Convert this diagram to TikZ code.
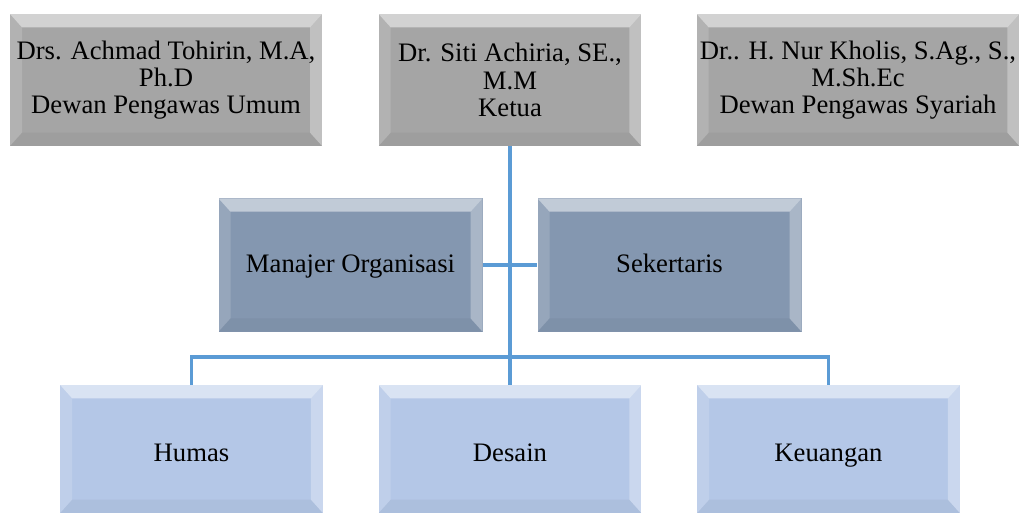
\documentclass[tikz,border=0pt]{standalone}
\usepackage{fontspec}
\setmainfont{Liberation Serif}
\usepackage{xcolor}

\definecolor{abu}{HTML}{A5A5A5}
\definecolor{biru}{HTML}{8497B0}
\definecolor{birumuda}{HTML}{B4C7E7}
\definecolor{garis}{HTML}{5B9BD5}

\tikzset{
  bevel/.style={
    path picture={
      \fill[white,opacity=0.5] (path picture bounding box.north west) -- (path picture bounding box.north east)
        -- ([xshift=-9pt,yshift=-10pt]path picture bounding box.north east) -- ([xshift=9pt,yshift=-10pt]path picture bounding box.north west) -- cycle;
      \fill[white,opacity=0.15] (path picture bounding box.north west) -- ([xshift=9pt,yshift=-10pt]path picture bounding box.north west)
        -- ([xshift=9pt,yshift=10pt]path picture bounding box.south west) -- (path picture bounding box.south west) -- cycle;
      \fill[white,opacity=0.3] (path picture bounding box.north east) -- ([xshift=-9pt,yshift=-10pt]path picture bounding box.north east)
        -- ([xshift=-9pt,yshift=10pt]path picture bounding box.south east) -- (path picture bounding box.south east) -- cycle;
      \fill[black,opacity=0.04] (path picture bounding box.south west) -- ([xshift=9pt,yshift=10pt]path picture bounding box.south west)
        -- ([xshift=-9pt,yshift=10pt]path picture bounding box.south east) -- (path picture bounding box.south east) -- cycle;
    }
  }
}

\begin{document}
\begin{tikzpicture}[x=0.75pt, y=-0.75pt,
    every node/.style={rectangle, align=center, inner sep=0pt, font=\fontsize{20}{20.5}\selectfont, bevel},
    atas/.style={fill=abu, minimum height=99pt},
    tengah/.style={fill=biru, minimum width=198pt, minimum height=100pt, text height=15pt, text depth=4pt},
    bawah/.style={fill=birumuda, minimum width=197pt, minimum height=96pt, text height=19pt, text depth=1pt},
    conn/.style={draw=garis, line width=2.4pt}]
            \useasboundingbox (0,0) rectangle (1019,513);

            \node[atas, minimum width=234pt] (umum) at (166,80) {Drs. Achmad Tohirin, M.A,\\Ph.D\\Dewan Pengawas Umum};
            \node[atas, minimum width=197pt] (ketua) at (510,80) {Dr. Siti Achiria, SE.,\\M.M\\Ketua};
            \node[atas, minimum width=242pt] (syariah) at (858,80) {Dr.. H. Nur Kholis, S.Ag., S.,\\M.Sh.Ec\\Dewan Pengawas Syariah};

            \node[tengah] (manajer) at (350.5,265) {Manajer Organisasi};
            \node[tengah] (sekertaris) at (669.5,265) {Sekertaris};

            \node[bawah] (humas) at (191.5,449) {Humas};
            \node[bawah] (desain) at (510,449) {Desain};
            \node[bawah] (keuangan) at (828.5,449) {Keuangan};

            \coordinate (cabang) at (510,357);

            \draw[conn] (ketua.south) -- (desain.north);
            \draw[conn] (manajer.east) -- (sekertaris.west);
            \draw[conn] (humas.north) |- (cabang) -| (keuangan.north);
        \end{tikzpicture}
\end{document}
